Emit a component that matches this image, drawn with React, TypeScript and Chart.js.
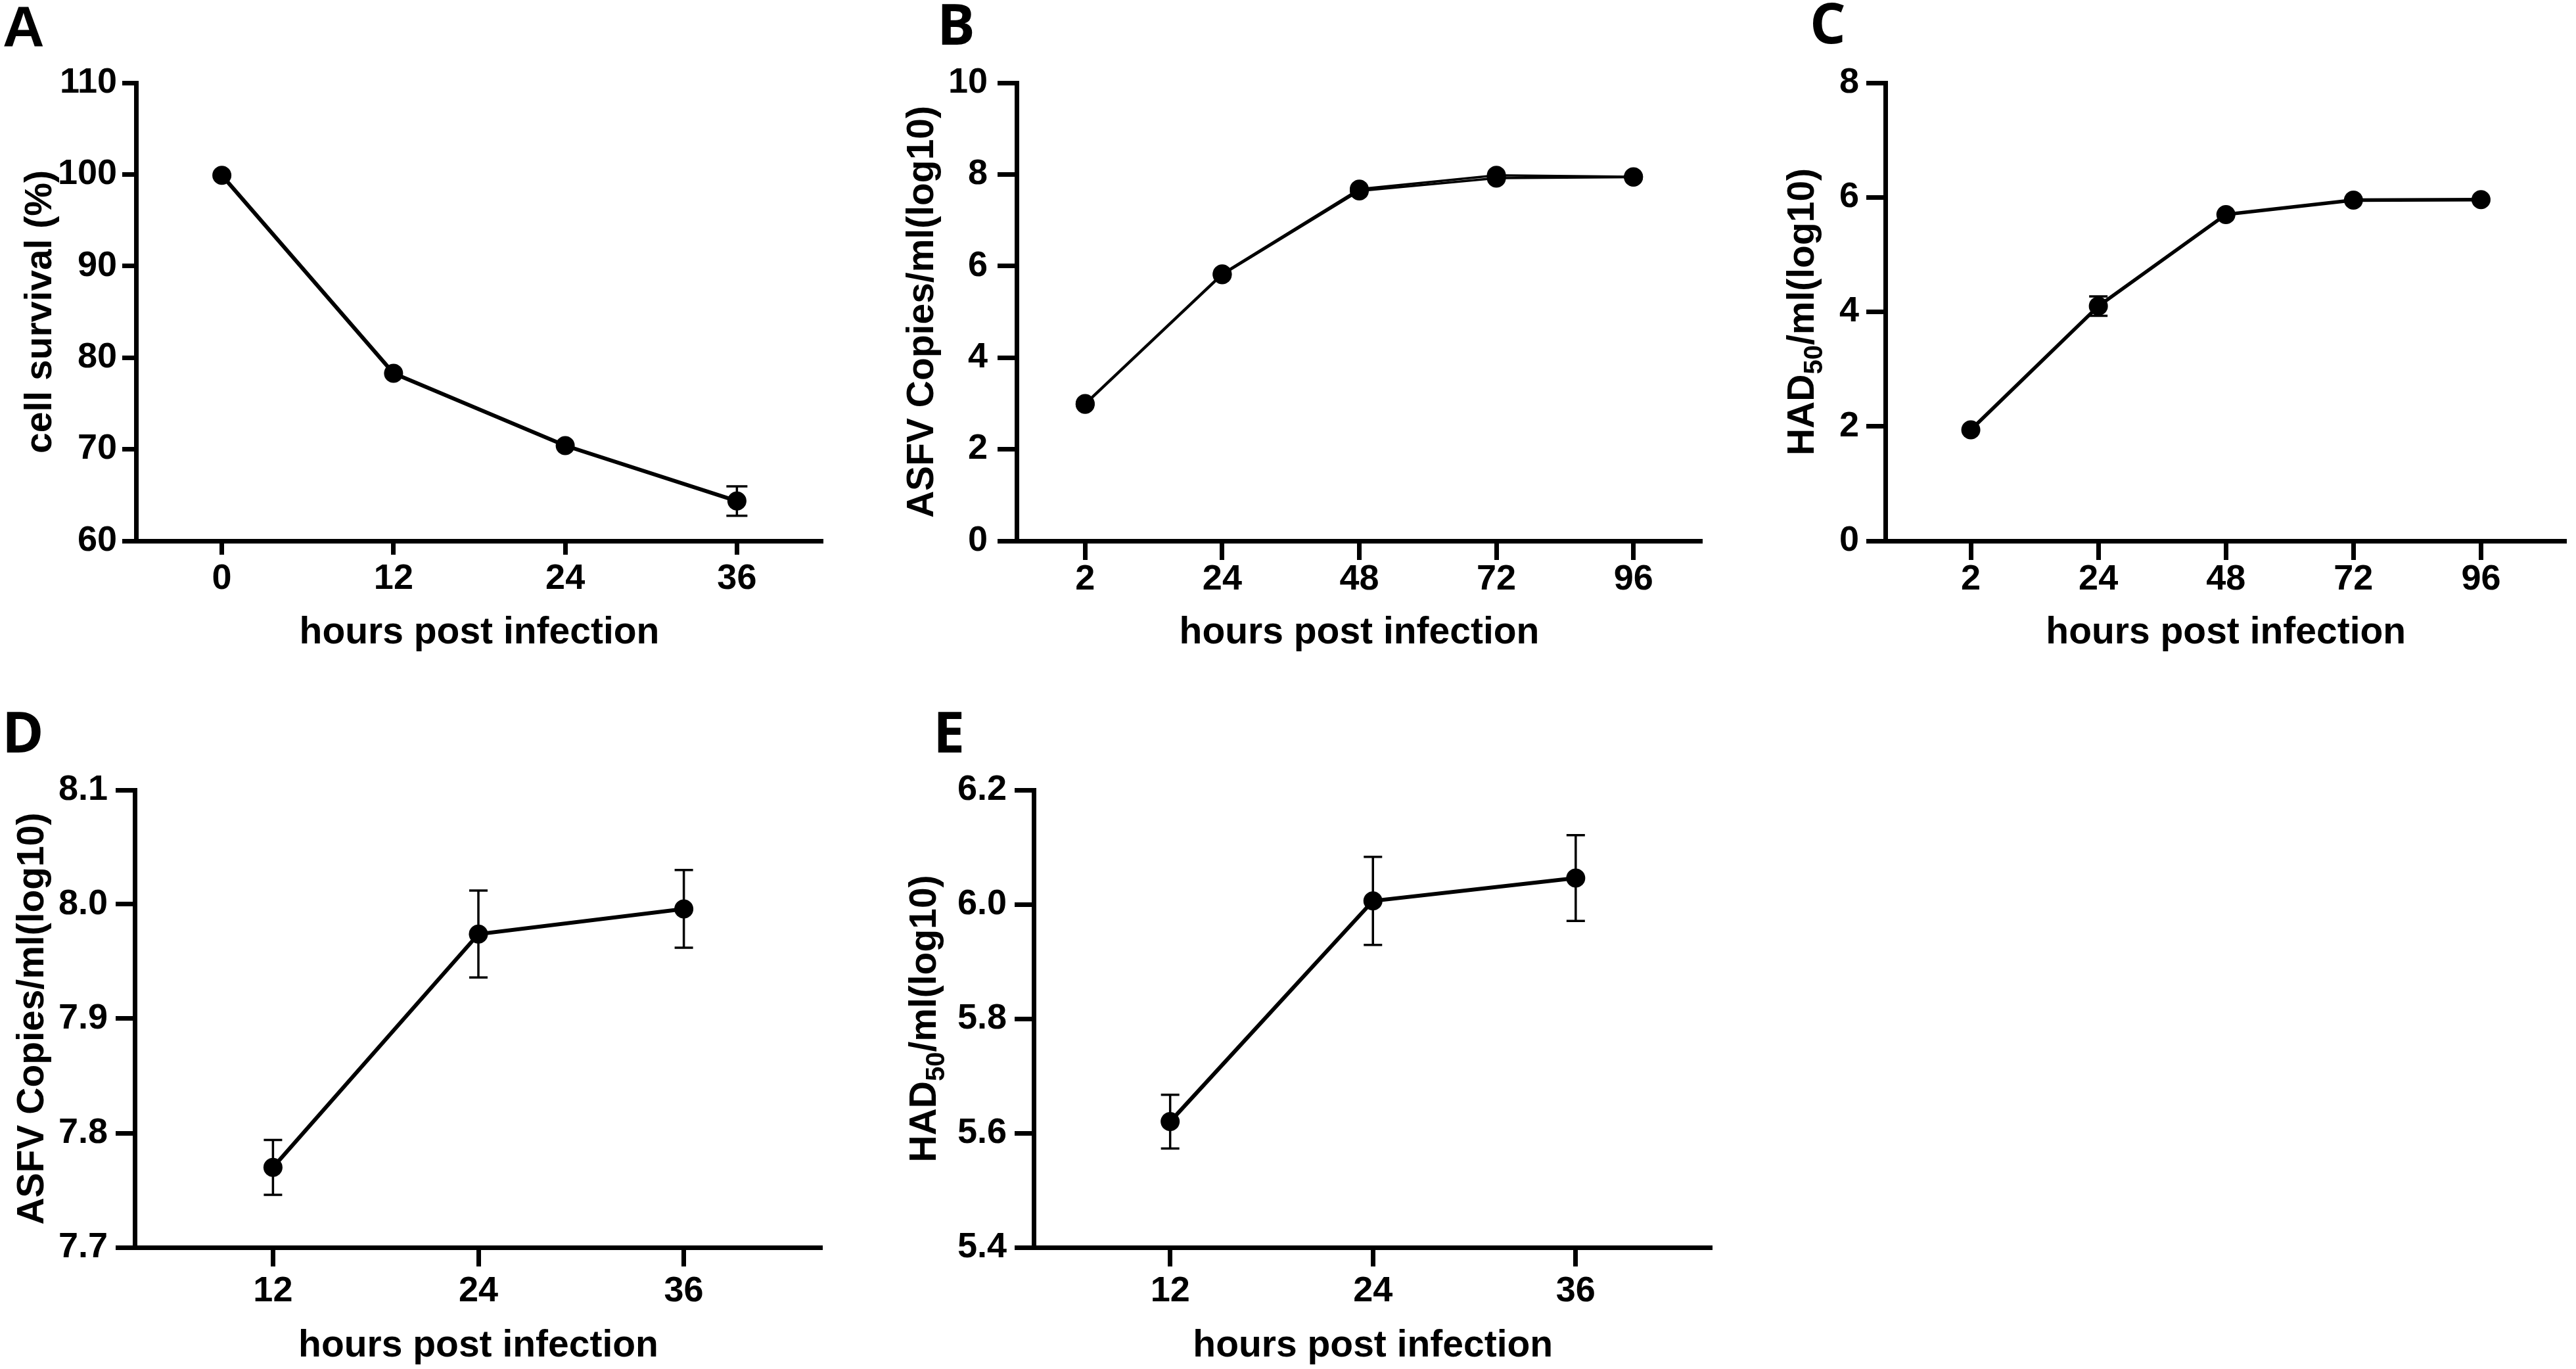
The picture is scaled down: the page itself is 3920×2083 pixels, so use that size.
import React, { useEffect, useRef } from 'react';
import { Chart, registerables } from 'chart.js';

Chart.register(...registerables);

// ---------------- data ----------------
const hoursA = ['0', '12', '24', '36'];
const survivalMean = [99.9, 78.3, 70.4, 64.35];
const survivalSD = [0, 0, 0, 1.6];
const yTicksA = [60, 70, 80, 90, 100, 110];

const hoursB = ['2', '24', '48', '72', '96'];
const copiesRep1 = [3.0, 5.83, 7.68, 7.98, 7.95];
const copiesRep2 = [2.98, 5.81, 7.64, 7.92, 7.94];
const yTicksB = [0, 2, 4, 6, 8, 10];

const hoursC = ['2', '24', '48', '72', '96'];
const hadMeanC = [1.94, 4.1, 5.7, 5.95, 5.96];
const hadSDC = [0, 0.17, 0, 0, 0];
const yTicksC = [0, 2, 4, 6, 8];

const hoursD = ['12', '24', '36'];
const copiesMeanD = [7.77, 7.974, 7.996];
const copiesSDD = [0.024, 0.038, 0.034];
const yTicksD = [7.7, 7.8, 7.9, 8.0, 8.1];

const hoursE = ['12', '24', '36'];
const hadMeanE = [5.62, 6.006, 6.046];
const hadSDE = [0.047, 0.077, 0.075];
const yTicksE = [5.4, 5.6, 5.8, 6.0, 6.2];

const xTitle = 'hours post infection';
const titleCell = [{ text: 'cell survival (%)' }];
const titleCopies = [{ text: 'ASFV Copies/ml(log10)' }];
const titleHad = [{ text: 'HAD' }, { text: '50', sub: true }, { text: '/ml(log10)' }];

// ---------------- styling ----------------
const FONT = "'Liberation Sans', Arial, Helvetica, sans-serif";
const LETTER_FONT_A = "'Liberation Sans', Arial, sans-serif";
const LETTER_FONT = "'Open Sans', 'Liberation Sans', sans-serif";

const decorPlugin = {
  id: 'panelDecor',
  beforeDatasetsDraw(chart: any, _args: any, opts: any) {
    const { ctx } = chart;
    const xs = chart.scales.x;
    const ys = chart.scales.y;
    chart.data.datasets.forEach((ds: any) => {
      const errs = ds.errors;
      if (!errs) return;
      ctx.save();
      ctx.strokeStyle = '#000';
      ctx.lineWidth = opts.errWidth || 3;
      const cap = opts.cap || 14;
      ds.data.forEach((pt: any, i: number) => {
        const e = errs[i];
        if (!e) return;
        const px = xs.getPixelForValue(pt.x);
        const top = ys.getPixelForValue(pt.y + e);
        const bot = ys.getPixelForValue(pt.y - e);
        ctx.beginPath();
        ctx.moveTo(px, top);
        ctx.lineTo(px, bot);
        ctx.moveTo(px - cap, top);
        ctx.lineTo(px + cap, top);
        ctx.moveTo(px - cap, bot);
        ctx.lineTo(px + cap, bot);
        ctx.stroke();
      });
      ctx.restore();
    });
  },
  afterDraw(chart: any, _args: any, opts: any) {
    const { ctx, chartArea } = chart;
    ctx.save();
    ctx.fillStyle = '#000';
    ctx.textBaseline = 'alphabetic';
    ctx.textAlign = 'left';
    // panel letter
    ctx.font = `bold ${opts.letterSize}px ${opts.letterFont}`;
    ctx.fillText(opts.letter, opts.letterX, opts.letterY);
    // rotated y title with optional subscript
    const main = `bold 57px ${FONT}`;
    const sub = `bold 40px ${FONT}`;
    const segs = opts.yTitle as { text: string; sub?: boolean }[];
    let total = 0;
    const widths = segs.map((s) => {
      ctx.font = s.sub ? sub : main;
      const w = ctx.measureText(s.text).width;
      total += w;
      return w;
    });
    const cy = (chartArea.top + chartArea.bottom) / 2;
    ctx.translate(opts.yTitleBaseline, cy);
    ctx.rotate(-Math.PI / 2);
    let xx = -total / 2;
    segs.forEach((s, i) => {
      ctx.font = s.sub ? sub : main;
      ctx.fillText(s.text, xx, s.sub ? 13 : 0);
      xx += widths[i];
    });
    ctx.restore();
  },
};

type Panel = {
  key: string;
  box: [number, number, number, number];
  yW: number;
  top: number;
  padR: number;
  xH: number;
  tick: number;
  yPad: number;
  xPad: number;
  titlePad: number;
  xRange: [number, number];
  labels: string[];
  yTicks: number[];
  dec: number;
  series: { values: number[]; errors?: number[]; width: number }[];
  cap: number;
  letter: string;
  letterFont: string;
  letterSize: number;
  letterX: number;
  letterY: number;
  yTitle: { text: string; sub?: boolean }[];
  yTitleBaseline: number;
};

const PANELS: Panel[] = [
  {
    key: 'A', box: [0, 0, 1300, 1075], yW: 207, top: 126, padR: 48, xH: 252, tick: 21, yPad: 8, xPad: 5,
    titlePad: 78, xRange: [-0.5, 3.5], labels: hoursA, yTicks: yTicksA, dec: 0,
    series: [{ values: survivalMean, errors: survivalSD, width: 6 }], cap: 16,
    letter: 'A', letterFont: LETTER_FONT_A, letterSize: 88, letterX: 4, letterY: 70,
    yTitle: titleCell, yTitleBaseline: 78,
  },
  {
    key: 'B', box: [1300, 0, 1320, 1075], yW: 247, top: 126, padR: 30, xH: 252, tick: 29, yPad: 15, xPad: -2,
    titlePad: 78, xRange: [-0.5, 4.5], labels: hoursB, yTicks: yTicksB, dec: 0,
    series: [{ values: copiesRep1, width: 3.5 }, { values: copiesRep2, width: 3.5 }], cap: 14,
    letter: 'B', letterFont: LETTER_FONT, letterSize: 86, letterX: 126, letterY: 68,
    yTitle: titleCopies, yTitleBaseline: 120,
  },
  {
    key: 'C', box: [2620, 0, 1300, 1075], yW: 249, top: 126, padR: 6, xH: 252, tick: 29, yPad: 11, xPad: -2,
    titlePad: 78, xRange: [-0.67, 4.67], labels: hoursC, yTicks: yTicksC, dec: 0,
    series: [{ values: hadMeanC, errors: hadSDC, width: 5.5 }], cap: 14,
    letter: 'C', letterFont: LETTER_FONT, letterSize: 86, letterX: 134, letterY: 66,
    yTitle: titleHad, yTitleBaseline: 140,
  },
  {
    key: 'D', box: [0, 1075, 1300, 1008], yW: 205, top: 127, padR: 49, xH: 185, tick: 29, yPad: 12, xPad: 6,
    titlePad: 0.5, xRange: [-0.673, 2.673], labels: hoursD, yTicks: yTicksD, dec: 1,
    series: [{ values: copiesMeanD, errors: copiesSDD, width: 6 }], cap: 14,
    letter: 'D', letterFont: LETTER_FONT, letterSize: 86, letterX: 3, letterY: 70,
    yTitle: titleCopies, yTitleBaseline: 66,
  },
  {
    key: 'E', box: [1300, 1075, 1320, 1008], yW: 273, top: 127, padR: 6, xH: 185, tick: 29, yPad: 12, xPad: 6,
    titlePad: 0.5, xRange: [-0.673, 2.673], labels: hoursE, yTicks: yTicksE, dec: 1,
    series: [{ values: hadMeanE, errors: hadSDE, width: 6 }], cap: 14,
    letter: 'E', letterFont: LETTER_FONT, letterSize: 86, letterX: 120, letterY: 70,
    yTitle: titleHad, yTitleBaseline: 124,
  },
];

function buildConfig(p: Panel): any {
  const tickFont = { family: FONT, size: 54, weight: 'bold' as const };
  return {
    type: 'line',
    data: {
      datasets: p.series.map((s) => ({
        data: s.values.map((v, i) => ({ x: i, y: v })),
        errors: s.errors,
        borderColor: '#000',
        borderWidth: s.width,
        backgroundColor: '#000',
        pointBackgroundColor: '#000',
        pointBorderColor: '#000',
        pointBorderWidth: 0,
        pointRadius: 14.5,
        tension: 0,
        fill: false,
        clip: false,
      })),
    },
    options: {
      responsive: false,
      animation: false,
      devicePixelRatio: 1,
      events: [],
      layout: { padding: { left: 0, top: p.top, right: p.padR, bottom: 0 } },
      plugins: {
        legend: { display: false },
        tooltip: { enabled: false },
        panelDecor: {
          letter: p.letter, letterFont: p.letterFont, letterSize: p.letterSize,
          letterX: p.letterX, letterY: p.letterY, yTitle: p.yTitle, yTitleBaseline: p.yTitleBaseline,
          cap: p.cap, errWidth: 3.5,
        },
      },
      scales: {
        x: {
          type: 'linear',
          min: p.xRange[0],
          max: p.xRange[1],
          afterBuildTicks: (s: any) => {
            s.ticks = p.labels.map((_, i) => ({ value: i }));
          },
          afterFit: (s: any) => {
            s.height = p.xH;
          },
          ticks: {
            autoSkip: false,
            maxRotation: 0,
            font: tickFont,
            color: '#000',
            padding: p.xPad,
            callback: (_v: any, i: number) => p.labels[i],
          },
          grid: { display: true, drawOnChartArea: false, drawTicks: true, tickLength: p.tick, tickWidth: 7, tickColor: '#000' },
          border: { display: true, width: 7, color: '#000' },
          title: {
            display: true,
            text: xTitle,
            color: '#000',
            font: { family: FONT, size: 57, weight: 'bold' },
            padding: { top: 0, bottom: p.titlePad },
          },
        },
        y: {
          type: 'linear',
          min: p.yTicks[0],
          max: p.yTicks[p.yTicks.length - 1],
          afterBuildTicks: (s: any) => {
            s.ticks = p.yTicks.map((v) => ({ value: v }));
          },
          afterFit: (s: any) => {
            s.width = p.yW;
          },
          ticks: {
            font: tickFont,
            color: '#000',
            padding: p.yPad,
            callback: (v: any) => Number(v).toFixed(p.dec),
          },
          grid: { display: true, drawOnChartArea: false, drawTicks: true, tickLength: p.tick, tickWidth: 7, tickColor: '#000' },
          border: { display: true, width: 7, color: '#000' },
        },
      },
    },
    plugins: [decorPlugin],
  };
}

export default function App() {
  const refs = useRef<(HTMLCanvasElement | null)[]>([]);

  useEffect(() => {
    const charts = PANELS.map((p, i) => {
      const c = refs.current[i]!;
      return new Chart(c, buildConfig(p));
    });
    return () => charts.forEach((c) => c.destroy());
  }, []);

  return (
    <div
      style={{
        position: 'absolute',
        left: 0,
        top: 0,
        width: 3920,
        height: 2083,
        background: '#fff',
        overflow: 'hidden',
      }}
    >
      {PANELS.map((p, i) => (
        <canvas
          key={p.key}
          ref={(el) => {
            refs.current[i] = el;
          }}
          width={p.box[2]}
          height={p.box[3]}
          style={{
            position: 'absolute',
            left: p.box[0],
            top: p.box[1],
            width: p.box[2],
            height: p.box[3],
          }}
        />
      ))}
    </div>
  );
}
